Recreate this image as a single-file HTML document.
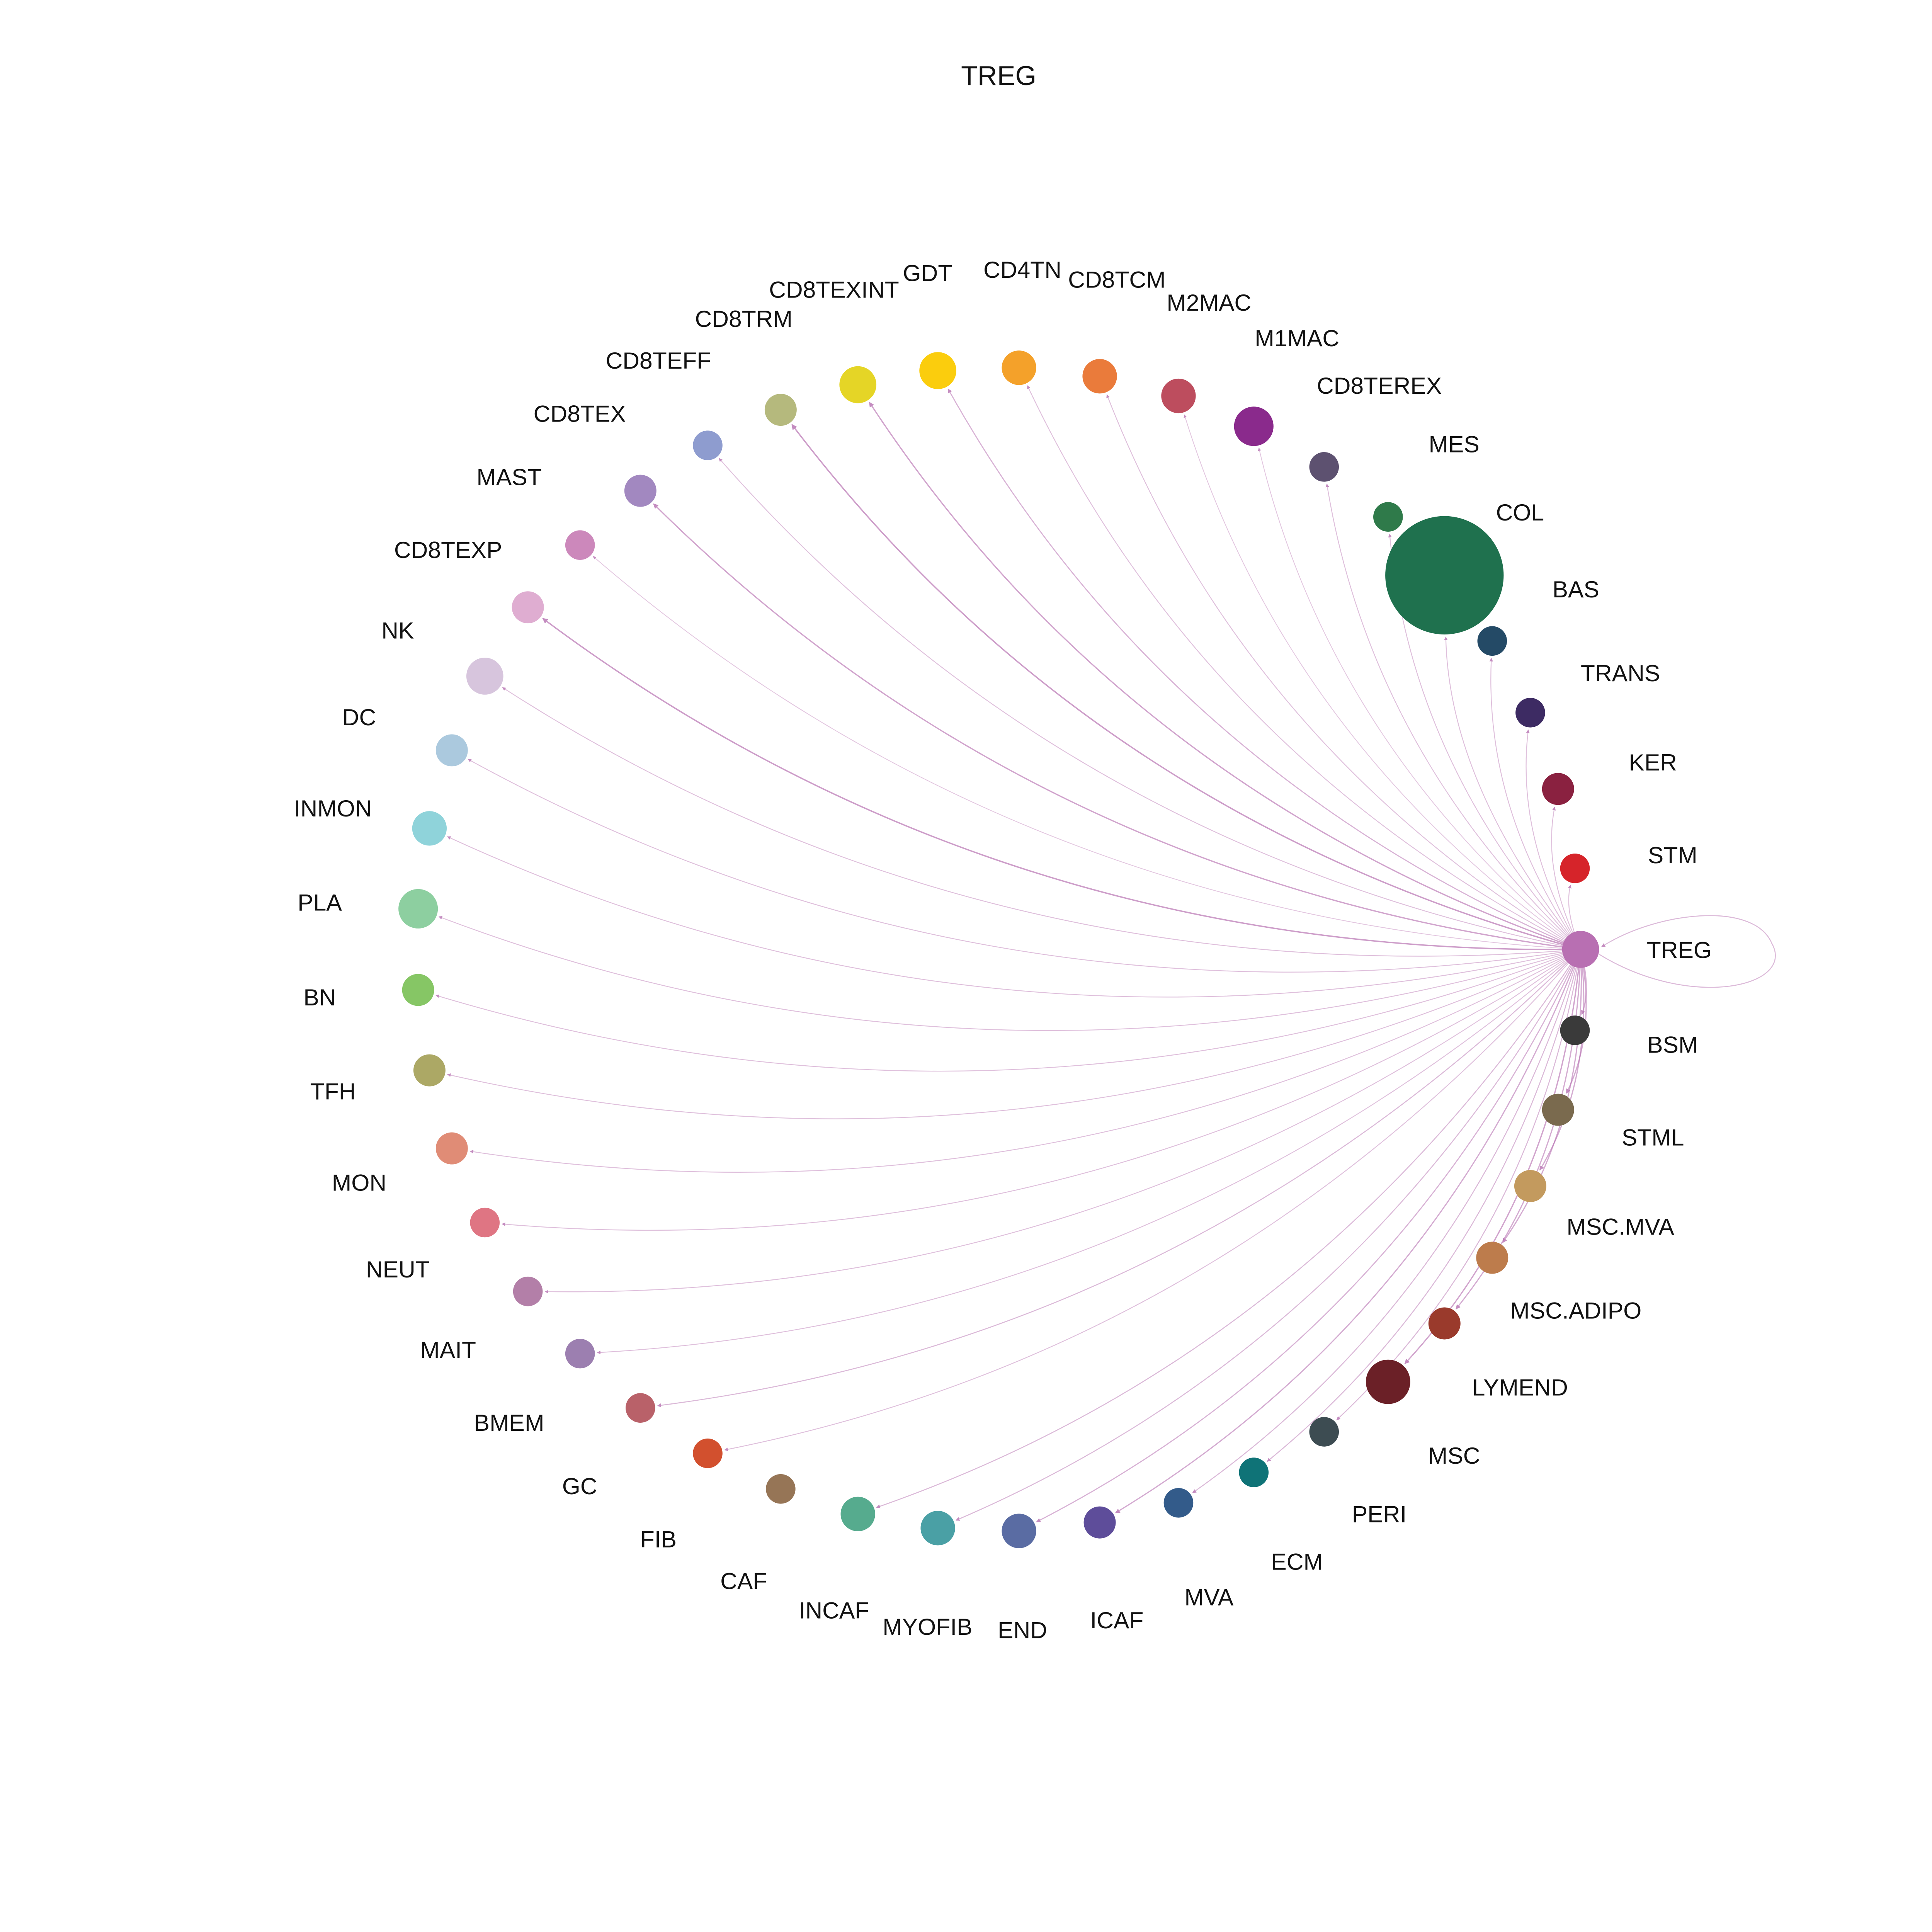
<!DOCTYPE html>
<html><head><meta charset="utf-8"><style>
html,body{margin:0;padding:0;background:#fff;width:100%;height:100%;overflow:hidden;}
svg{display:block;width:100vw;height:100vh;}
text{font-family:"Liberation Sans",sans-serif;fill:#111;}
</style></head><body>
<svg id="chart" viewBox="0 0 1567 1567" preserveAspectRatio="xMidYMid meet" xmlns="http://www.w3.org/2000/svg">
<defs><marker id="arr" viewBox="0 0 10 10" refX="9" refY="5" markerWidth="4" markerHeight="4" orient="auto"><path d="M0,0 L10,5 L0,10 z" fill="#c48cc0"/></marker></defs>
<rect width="1567" height="1567" fill="#fff"/>
<text x="810" y="69" text-anchor="middle" font-size="22">TREG</text>
<g id="edges"></g><g id="nodes"></g><g id="labels"></g>
</svg>
<script>
const names=["TREG","BSM","STML","MSC.MVA","MSC.ADIPO","LYMEND","MSC","PERI","ECM","MVA","ICAF","END","MYOFIB","INCAF","CAF","FIB","GC","BMEM","MAIT","NEUT","MON","TFH","BN","PLA","INMON","DC","NK","CD8TEXP","MAST","CD8TEX","CD8TEFF","CD8TRM","CD8TEXINT","GDT","CD4TN","CD8TCM","M2MAC","M1MAC","CD8TEREX","MES","COL","BAS","TRANS","KER","STM"];
const colors=["#b86fb2","#3a3a3a","#7a6a4e","#c39a5e","#bd7c4c","#9a3a2c","#6b2027","#3d4c52","#0f7377","#335b8a","#5e4d9a","#5a6ca3","#4aa0a5","#56ab8e","#967556","#d2502e","#b96169","#9c7fb0","#b37fa8","#df7583","#e08c76","#aca865","#86c665","#8dcfa0","#8fd3da","#abc9de","#d7c5dd","#dfadd1","#cc88bb","#a288c0","#8e9ccf","#b5b97d","#e5d526","#fbcd0d","#f4a12a","#ea7b3b","#bd4d5e","#8a2a8c","#5d5170","#2f7a4a","#1f714e","#244a66","#3d2b63","#8a2140","#d6242a"];
const sizes=[15,12,13,13,13,13,18,12,12,12,13,14,14,14,12,12,12,12,12,12,13,13,13,16,14,13,15,13,12,13,12,13,15,15,14,14,14,16,12,12,48,12,12,13,12];
const weights=[0.6,0.6,0.7,0.7,0.7,0.7,0.8,0.5,0.5,0.5,0.7,0.6,0.5,0.5,0,0.4,0.5,0.4,0.4,0.4,0.4,0.4,0.4,0.4,0.4,0.4,0.4,0.9,0.3,0.8,0.4,0.9,0.8,0.6,0.4,0.4,0.3,0.3,0.4,0.4,0.4,0.4,0.4,0.4,0.4];
const cx=810,cy=770,R=472,LR=552,step=360/names.length;
const NS="http://www.w3.org/2000/svg";
const eg=document.getElementById('edges'),ng=document.getElementById('nodes'),lg=document.getElementById('labels');
function pos(i,r){const a=i*step*Math.PI/180;return [cx+r*Math.cos(a),cy+r*Math.sin(a)];}
const p0=pos(0,R);
names.forEach((n,i)=>{
  const [x,y]=pos(i,R);
  if(i===0){
    const p=document.createElementNS(NS,'path');
    p.setAttribute('d',`M${x+sizes[0]},${y+4} C${x+90},${y+50} ${x+175},${y+30} ${x+155},${y-5} C${x+140},${y-40} ${x+60},${y-30} ${x+sizes[0]+2},${y-2}`);
    p.setAttribute('fill','none');p.setAttribute('stroke','#c48cc0');p.setAttribute('stroke-opacity','0.6');p.setAttribute('stroke-width','0.8');
    p.setAttribute('marker-end','url(#arr)');
    
    
    eg.appendChild(p);
  } else if(weights[i]>0){
    const dx=x-p0[0],dy=y-p0[1];
    const mx=(x+p0[0])/2+0.17*dy,my=(y+p0[1])/2-0.17*dx;
    let ex=x-mx,ey=y-my;const L=Math.hypot(ex,ey);
    const tx=x-ex/L*(sizes[i]+2),ty=y-ey/L*(sizes[i]+2);
    const p=document.createElementNS(NS,'path');
    p.setAttribute('d',`M${p0[0]},${p0[1]} Q${mx},${my} ${tx},${ty}`);
    p.setAttribute('fill','none');p.setAttribute('stroke','#b873b2');
    p.setAttribute('stroke-opacity',(0.25+weights[i]*0.5).toFixed(2));
    p.setAttribute('stroke-width',(0.4+weights[i]*0.8).toFixed(2));
    p.setAttribute('marker-end','url(#arr)');
    
    
    eg.appendChild(p);
  }
  const c=document.createElementNS(NS,'circle');
  c.setAttribute('cx',x);c.setAttribute('cy',y);c.setAttribute('r',sizes[i]);c.setAttribute('fill',colors[i]);
  
  
  ng.appendChild(c);
  const [lx,ly]=pos(i,LR);
  const t=document.createElementNS(NS,'text');
  t.setAttribute('x',lx);t.setAttribute('y',ly+7);t.setAttribute('text-anchor','middle');t.setAttribute('font-size','19');
  t.textContent=n;
  
  
  lg.appendChild(t);
});
</script>
</body></html>
